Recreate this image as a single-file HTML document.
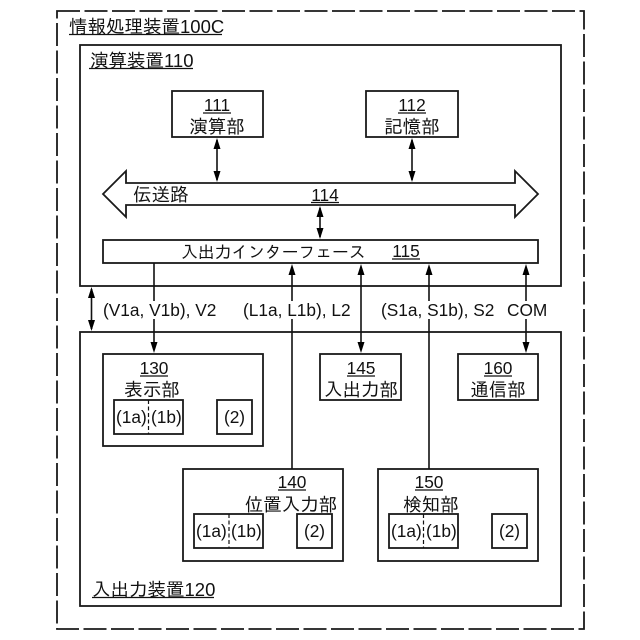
<!DOCTYPE html>
<html><head><meta charset="utf-8">
<style>
html,body{margin:0;padding:0;background:#fff}
svg{display:block}
text{font-family:"Liberation Sans","IPAGothic","Noto Sans CJK JP",sans-serif;font-size:18.500px;fill:#111}
.c{text-anchor:middle}
.b{fill:#fff;stroke:#1a1a1a;stroke-width:1.8}
.l{stroke:#111;stroke-width:1.6;fill:none}
.u{stroke:#111;stroke-width:1.3}
.d{stroke:#111;stroke-width:1.2;stroke-dasharray:4 2.5}
.s{font-size:17.300px}
.a{fill:#000}
</style></head><body>
<svg width="640" height="640" viewBox="0 0 640 640" xmlns="http://www.w3.org/2000/svg">
<rect x="57" y="11" width="527" height="618" fill="none" stroke="#1a1a1a" stroke-width="1.8" stroke-dasharray="23 4.5"/>
<text x="69" y="33">情報処理装置100C</text><line x1="69" x2="222" y1="34.500" y2="34.500" class="u"/>

<rect x="80" y="45" width="481" height="241" class="b"/>
<text x="90" y="67">演算装置110</text><line x1="89" x2="193" y1="68.500" y2="68.500" class="u"/>

<rect x="172" y="91" width="91" height="46" class="b"/>
<text x="217" y="111" class="c s">111</text><line x1="203" x2="231" y1="113" y2="113" class="u"/>
<text x="217" y="133" class="c">演算部</text>
<rect x="366" y="91" width="92" height="46" class="b"/>
<text x="412" y="111" class="c s">112</text><line x1="398" x2="426" y1="113" y2="113" class="u"/>
<text x="412" y="133" class="c">記憶部</text>

<path d="M103 194 L126 171 V183 H515 V171 L538 194 L515 217 V205 H126 V217 Z" class="b"/>
<text x="133" y="201">伝送路</text>
<text x="325" y="201" class="c s">114</text><line x1="311" x2="339" y1="202.500" y2="202.500" class="u"/>

<rect x="103" y="240" width="435" height="23" class="b"/>
<text x="181" y="258" style="font-size:16.800px">入出力インターフェース</text>
<text x="406" y="257" class="c s">115</text><line x1="392" x2="420" y1="259" y2="259" class="u"/>

<rect x="80" y="332" width="481" height="274" class="b"/>
<text x="92" y="596">入出力装置120</text><line x1="92" x2="214" y1="597.500" y2="597.500" class="u"/>

<rect x="103" y="354" width="160" height="92" class="b"/>
<text x="154" y="374" class="c s">130</text><line x1="140" x2="168" y1="376" y2="376" class="u"/>
<text x="152" y="396" class="c">表示部</text>
<rect x="114" y="400" width="69" height="34" class="b"/>
<rect x="217" y="400" width="35" height="34" class="b"/>
<line x1="148.500" x2="148.500" y1="400" y2="434" class="d"/>
<text x="116" y="423" class="s">(1a)</text><text x="151" y="423" class="s">(1b)</text><text x="234.500" y="423" class="c s">(2)</text>

<rect x="183" y="469" width="160" height="92" class="b"/>
<text x="292" y="488" class="c s">140</text><line x1="278" x2="306" y1="490" y2="490" class="u"/>
<text x="291" y="511" class="c">位置入力部</text>
<rect x="194" y="514" width="69" height="34" class="b"/>
<rect x="297" y="514" width="35" height="34" class="b"/>
<line x1="229" x2="229" y1="514" y2="548" class="d"/>
<text x="196" y="537" class="s">(1a)</text><text x="231" y="537" class="s">(1b)</text><text x="314.500" y="537" class="c s">(2)</text>

<rect x="320" y="354" width="81" height="46" class="b"/>
<text x="361" y="374" class="c s">145</text><line x1="347" x2="375" y1="376" y2="376" class="u"/>
<text x="361" y="396" class="c">入出力部</text>

<rect x="378" y="469" width="160" height="92" class="b"/>
<text x="429" y="488" class="c s">150</text><line x1="415" x2="443" y1="490" y2="490" class="u"/>
<text x="431" y="511" class="c">検知部</text>
<rect x="389" y="514" width="69" height="34" class="b"/>
<rect x="492" y="514" width="35" height="34" class="b"/>
<line x1="423.500" x2="423.500" y1="514" y2="548" class="d"/>
<text x="391" y="537" class="s">(1a)</text><text x="426" y="537" class="s">(1b)</text><text x="509.500" y="537" class="c s">(2)</text>

<rect x="458" y="354" width="80" height="46" class="b"/>
<text x="498" y="374" class="c s">160</text><line x1="484" x2="512" y1="376" y2="376" class="u"/>
<text x="498" y="396" class="c">通信部</text>

<g class="l">
<line x1="217" x2="217" y1="140" y2="180"/>
<line x1="412" x2="412" y1="140" y2="180"/>
<line x1="320" x2="320" y1="208" y2="237"/>
<line x1="91.500" x2="91.500" y1="289" y2="329"/>
<line x1="154" x2="154" y1="263" y2="350"/>
<line x1="292" x2="292" y1="267" y2="469"/>
<line x1="361" x2="361" y1="267" y2="350"/>
<line x1="429" x2="429" y1="267" y2="469"/>
<line x1="526" x2="526" y1="267" y2="350"/>
</g>
<g class="a">
<path d="M217 138l-3.500 11h7zM217 182l-3.500-11h7z"/>
<path d="M412 138l-3.500 11h7zM412 182l-3.500-11h7z"/>
<path d="M320 206l-3.500 11h7zM320 239l-3.500-11h7z"/>
<path d="M91.500 287l-3.500 11h7zM91.500 331l-3.500-11h7z"/>
<path d="M154 353l-3.500-11h7z"/>
<path d="M292 264l-3.500 11h7z"/>
<path d="M361 264l-3.500 11h7zM361 353l-3.500-11h7z"/>
<path d="M429 264l-3.500 11h7z"/>
<path d="M526 264l-3.500 11h7zM526 353l-3.500-11h7z"/>
</g>

<rect x="102" y="301" width="116" height="18" fill="#fff"/>
<rect x="242" y="301" width="110" height="18" fill="#fff"/>
<rect x="380" y="301" width="113" height="18" fill="#fff"/>
<rect x="506" y="301" width="42" height="18" fill="#fff"/>
<text x="103" y="316" class="s">(V1a, V1b), V2</text>
<text x="243" y="316" class="s">(L1a, L1b), L2</text>
<text x="381" y="316" class="s">(S1a, S1b), S2</text>
<text x="507" y="316" class="s">COM</text>
</svg>
</body></html>
